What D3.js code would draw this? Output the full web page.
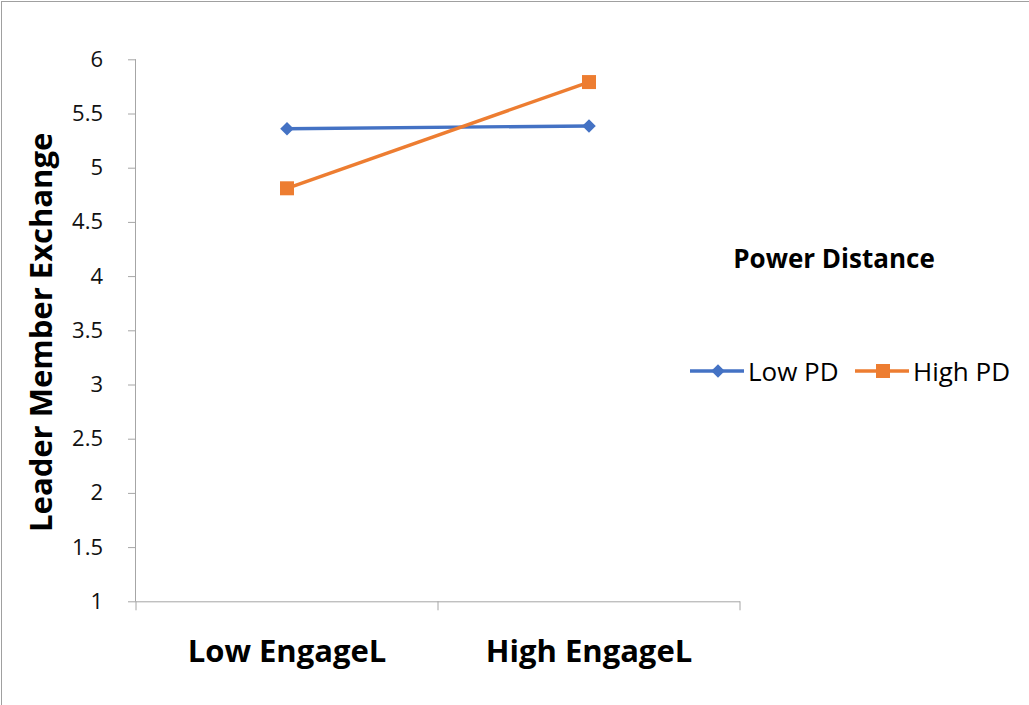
<!DOCTYPE html>
<html><head><meta charset="utf-8">
<script src="https://cdn.jsdelivr.net/npm/d3@7"></script>
<style>body{margin:0;background:#fff}svg{display:block}text{font-family:"Open Sans",sans-serif}</style>
</head><body>
<svg id="c" width="1029" height="705"></svg>
<script>
const categories = ["Low EngageL", "High EngageL"];
const seriesNames = ["Low PD", "High PD"];
const lowPD = [5.36, 5.385];
const highPD = [4.81, 5.79];
const yTicks = [1, 1.5, 2, 2.5, 3, 3.5, 4, 4.5, 5, 5.5, 6];
const colors = ["#4472C4", "#ED7D31"];
const series = [{name: seriesNames[0], values: lowPD, color: colors[0], shape: "diamond"},
                {name: seriesNames[1], values: highPD, color: colors[1], shape: "square"}];

const svg = d3.select("#c");
svg.append("rect").attr("x",1.5).attr("y",1.5).attr("width",1100).attr("height",1100)
  .attr("fill","none").attr("stroke","#a0a0a0").attr("stroke-width",1);

const x0 = 136, x1 = 740, yTop = 59.3, yBot = 601.3;
const y = d3.scaleLinear().domain([1, 6]).range([yBot, yTop]);
const x = d3.scaleBand().domain(categories).range([x0, x1]);
const axisColor = "#a6a6a6";

const ya = svg.append("g").attr("transform", `translate(${x0},0)`)
  .call(d3.axisLeft(y).tickValues(yTicks).tickSize(8).tickPadding(25).tickFormat(d3.format("~g")));
ya.select(".domain").attr("stroke", axisColor).attr("d", `M-0.5,${yTop}V${yBot}`);
ya.selectAll(".tick line").attr("stroke", axisColor);
ya.selectAll(".tick text").attr("fill", "#111").style("font-size", "22px").attr("font-family",null);

const xa = svg.append("g").attr("transform", `translate(0,${yBot})`)
  .call(d3.axisBottom(x).tickSize(0));
xa.select(".domain").attr("stroke", axisColor).attr("d", `M${x0},0.5H${x1}`);
xa.selectAll(".tick text").attr("fill","#000").attr("font-family",null).attr("y", 61).attr("dy", 0)
  .style("font-size","31px").style("font-weight","bold");
const bounds = [x0, x0 + x.bandwidth(), x1];
svg.append("g").selectAll("line").data(bounds).join("line")
  .attr("x1", d => d).attr("x2", d => d).attr("y1", yBot).attr("y2", yBot + 9)
  .attr("stroke", axisColor);

svg.append("text").attr("transform", `translate(52,${(yTop+yBot)/2+2}) rotate(-90)`)
  .attr("text-anchor","middle").style("font-size","31px").style("font-weight","bold")
  .text("Leader Member Exchange");

const cx = c => x(c) + x.bandwidth()/2;
const line = d3.line().x((d,i) => cx(categories[i])).y(d => y(d));

function marker(g, s, px, py) {
  if (s.shape === "diamond") {
    g.append("path").attr("d", d3.symbol().type(d3.symbolSquare).size(92)())
      .attr("transform", `translate(${px},${py}) rotate(45)`).attr("fill", s.color);
  } else {
    g.append("path").attr("d", d3.symbol().type(d3.symbolSquare).size(196)())
      .attr("transform", `translate(${px},${py})`).attr("fill", s.color);
  }
}

series.forEach(s => {
  svg.append("path").attr("d", line(s.values)).attr("fill","none")
    .attr("stroke", s.color).attr("stroke-width", 3.4);
  const g = svg.append("g");
  s.values.forEach((v,i) => marker(g, s, cx(categories[i]), y(v)));
});

svg.append("text").attr("x", 834).attr("y", 268).attr("text-anchor","middle")
  .style("font-size","26px").style("font-weight","bold").text("Power Distance");
const legX = [690, 855];
series.forEach((s, i) => {
  const g = svg.append("g");
  g.append("line").attr("x1", legX[i]).attr("x2", legX[i] + 54).attr("y1", 371).attr("y2", 371)
    .attr("stroke", s.color).attr("stroke-width", 3.4);
  marker(g, s, legX[i] + 28, 371);
  g.append("text").attr("x", legX[i] + 58).attr("y", 381).style("font-size","26px").text(s.name);
});
</script>
</body></html>
